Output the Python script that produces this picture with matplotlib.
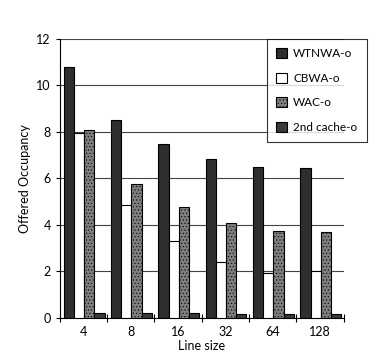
import matplotlib.pyplot as plt
import numpy as np

# Data
line_sizes = ["4", "8", "16", "32", "64", "128"]
wtnwa = [10.8, 8.5, 7.48, 6.84, 6.5, 6.45]
cbwa = [7.95, 4.86, 3.31, 2.41, 1.94, 2.0]
wac = [8.08, 5.76, 4.77, 4.1, 3.74, 3.7]
second_cache = [0.2, 0.2, 0.2, 0.18, 0.17, 0.15]

series = [
    ("WTNWA-o", wtnwa, "#2e2e2e", None),
    ("CBWA-o", cbwa, "white", None),
    ("WAC-o", wac, "#7e7e7e", "....."),
    ("2nd cache-o", second_cache, "#3a3a3a", None),
]

plt.rcParams["font.family"] = ["Lato", "DejaVu Sans"]
plt.rcParams["hatch.color"] = "#555555"
plt.rcParams["hatch.linewidth"] = 0.4

fig = plt.figure(figsize=(3.91, 3.63), dpi=100)
ax = fig.add_axes([0.153, 0.124, 0.726, 0.769])

x = np.arange(len(line_sizes))
width = 0.215
offset = 0.085
for k, (name, vals, col, hatch) in enumerate(series):
    ax.bar(x + offset + k * width, vals, width, align="edge", color=col,
           edgecolor="black", linewidth=0.8, hatch=hatch, label=name, zorder=3)

ax.set_xlim(0, len(line_sizes))
ax.set_ylim(0, 12)
ax.set_yticks(range(0, 13, 2))
ax.yaxis.grid(True, color="#444444", linewidth=0.8, zorder=0)

# tick marks at the group boundaries, labels in the middle
ax.set_xticks(np.arange(len(line_sizes) + 1))
ax.set_xticklabels([])
ax.set_xticks(x + 0.5, minor=True)
ax.set_xticklabels(line_sizes, minor=True)
ax.tick_params(axis="x", which="major", direction="inout", length=6, width=0.8)
ax.tick_params(axis="x", which="minor", length=0, pad=6, labelsize=9)
ax.tick_params(axis="y", length=3, labelsize=9, width=0.8)

for s in ["top", "right"]:
    ax.spines[s].set_visible(False)
ax.spines["left"].set_linewidth(0.8)
ax.spines["bottom"].set_linewidth(0.8)

ax.set_xlabel("Line size", fontsize=9, labelpad=1)
ax.set_ylabel("Offered Occupancy", fontsize=9, labelpad=4)

leg = ax.legend(loc="upper left", bbox_to_anchor=(0.73, 1.0), fontsize=8.5,
                frameon=True, fancybox=False, edgecolor="black",
                handlelength=0.9, handleheight=0.9, labelspacing=1.15,
                borderpad=0.8, handletextpad=0.5, borderaxespad=0.0)
leg.get_frame().set_linewidth(0.8)
leg.set_zorder(5)

fig.savefig("out.png", dpi=100)
